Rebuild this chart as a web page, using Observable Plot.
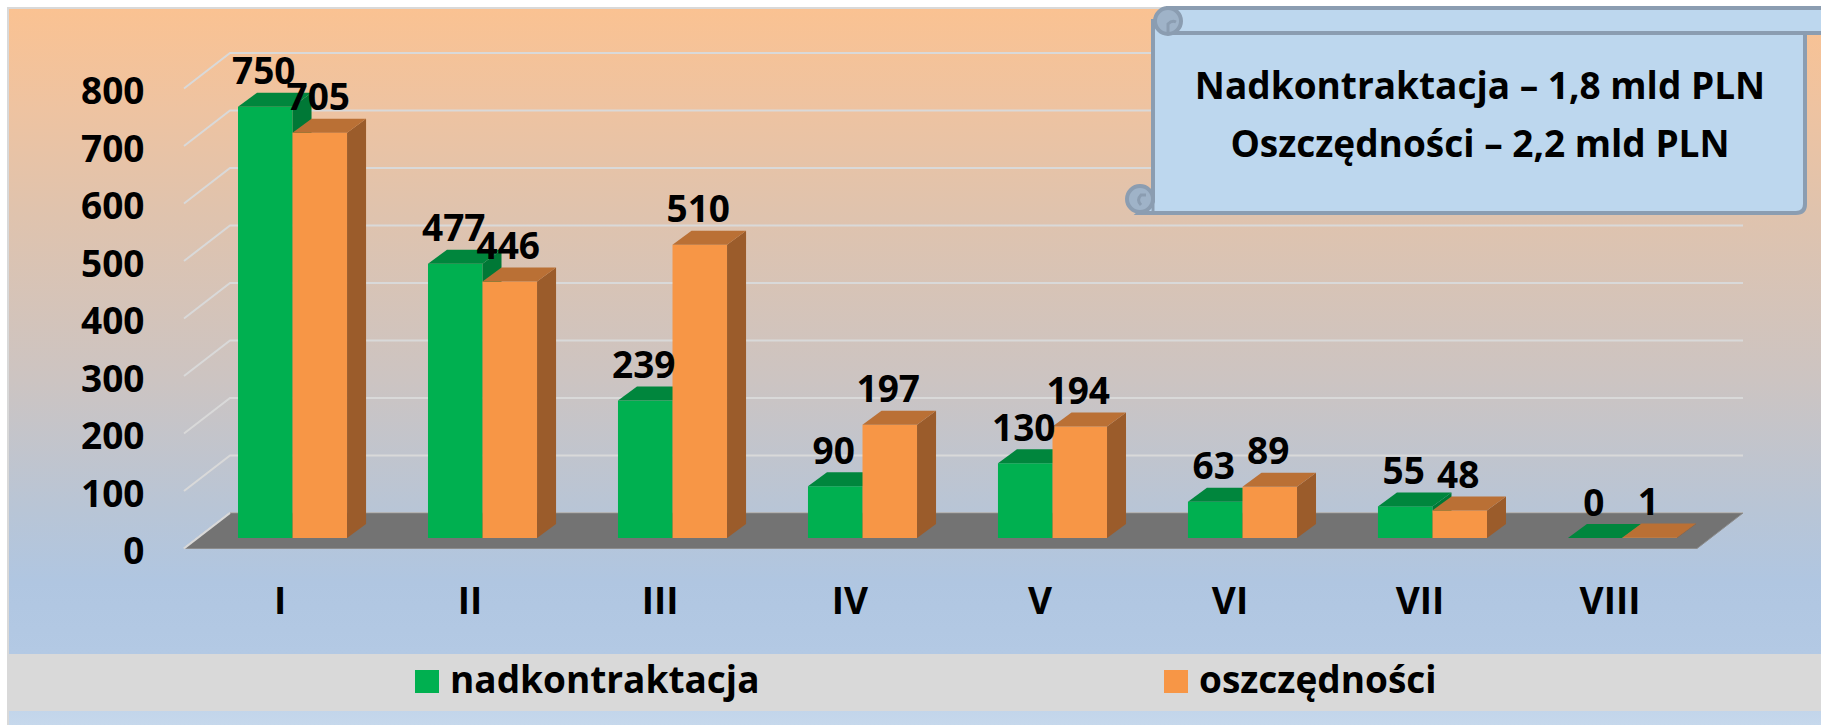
<!DOCTYPE html>
<html>
<head>
<meta charset="utf-8">
<script src="https://cdn.jsdelivr.net/npm/d3@7"></script>
<script src="https://cdn.jsdelivr.net/npm/@observablehq/plot@0.6"></script>
<style>
  html, body { margin: 0; padding: 0; background: #ffffff; }
  #wrap { position: relative; width: 1821px; height: 725px; overflow: hidden; font-family: 'Open Sans', sans-serif; }
  #bg { position: absolute; left: 7px; top: 7px; right: 0; bottom: 0;
        border-left: 2px solid #d9d9d9; border-top: 2px solid #d9d9d9;
        background: linear-gradient(to bottom, #FAC292 0%, #EEC3A1 14%, #E0C3AD 28%, #CCC4C2 52%, #B8C5D6 70%, #B0C6E1 80%, #B3C9E4 90%, #C6D8EC 100%); }
  #chart { position: absolute; left: 0; top: 0; }
  #legend { position: absolute; left: 9px; top: 654px; }
</style>
</head>
<body>
<div id="wrap">
  <div id="bg"></div>
  <div id="chart"></div>
  <div id="legend"></div>
</div>
<script>
// ---- data ----
const categories = ["I", "II", "III", "IV", "V", "VI", "VII", "VIII"];
const nadkontraktacja = [750, 477, 239, 90, 130, 63, 55, 0];
const oszczednosci = [705, 446, 510, 197, 194, 89, 48, 1];
const seriesNames = ["nadkontraktacja", "oszczędności"];
const yTicks = [0, 100, 200, 300, 400, 500, 600, 700, 800];
const boxLines = ["Nadkontraktacja – 1,8 mld PLN", "Oszczędności – 2,2 mld PLN"];

// ---- layout ----
const W = 1821, H = 654;
const mL = 238, mR = 144, mT = 78, mB = 116;
const padInner = 0.426;
const step = (W - mL - mR) / (categories.length - padInner);
const bw = step * (1 - padInner);
const half = bw / 2;
const depth = {dx: 19, dy: 14};           // bar depth
const wall = {back: 25, front: 10.5, dx: 46, left: -8, right: 66}; // floor / wall geometry
const FONT = "'Open Sans', sans-serif";

const styles = {
  [seriesNames[0]]: {front: "#00B050", top: "#00863D", side: "#007836", offset: 0},
  [seriesNames[1]]: {front: "#F79646", top: "#BA7035", side: "#9B5C2B", offset: half}
};

const rows = categories.flatMap((c, i) => [
  {cat: c, series: seriesNames[0], value: nadkontraktacja[i]},
  {cat: c, series: seriesNames[1], value: oszczednosci[i]}
]);
const bySeries = s => rows.filter(r => r.series === s);

// back wall gridlines + floor
function backdrop(index, scales, values, dims) {
  const sy = scales.y;
  const g = d3.create("svg:g");
  const xb0 = dims.marginLeft + wall.left;
  const xb1 = dims.width - dims.marginRight + wall.right;
  const xf0 = xb0 - wall.dx;
  for (const v of yTicks) {
    const yb = sy(v) - wall.back, yf = sy(v) + wall.front;
    g.append("path")
      .attr("d", `M${xf0},${yf}L${xb0},${yb}L${xb1},${yb}`)
      .attr("fill", "none").attr("stroke", "#D9D9D9").attr("stroke-width", 2);
  }
  const yb = sy(0) - wall.back, yf = sy(0) + wall.front;
  g.append("path")
    .attr("d", `M${xb0},${yb}L${xb1},${yb}L${xb1 - wall.dx},${yf}L${xf0},${yf}Z`)
    .attr("fill", "#737373").attr("stroke", "#8C8C8C").attr("stroke-width", 1);
  g.append("path")
    .attr("d", `M${xf0},${yf}L${xb0},${yb}`)
    .attr("stroke", "#D9D9D9").attr("stroke-width", 2);
  return g.node();
}

// top & side faces of each bar of one series
function faces(sName) {
  return (index, scales) => {
    const sx = scales.x, sy = scales.y;
    const st = styles[sName];
    const g = d3.create("svg:g");
    const y0 = sy(0);
    for (const r of bySeries(sName)) {
      const xl = sx(r.cat) + st.offset, xr = xl + half, yt = sy(r.value);
      g.append("path")
        .attr("d", `M${xr},${yt}L${xr + depth.dx},${yt - depth.dy}L${xr + depth.dx},${y0 - depth.dy}L${xr},${y0}Z`)
        .attr("fill", st.side);
      g.append("path")
        .attr("d", `M${xl},${yt}L${xr},${yt}L${xr + depth.dx},${yt - depth.dy}L${xl + depth.dx},${yt - depth.dy}Z`)
        .attr("fill", st.top);
    }
    return g.node();
  };
}

// scroll-shaped annotation box
function scrollBox() {
  const g = d3.create("svg:g");
  const stroke = "#8B9DB1", fill = "#BDD7EE", curl = "#9FB3C8";
  const L = 1153, R = 1805, T = 33, B = 213;
  // body
  g.append("path")
    .attr("d", `M${L},${T - 12}L${R},${T - 12}L${R},${B - 9}Q${R},${B} ${R - 9},${B}L${L - 14},${B}L${L},${B - 12}Z`)
    .attr("fill", fill).attr("stroke", stroke).attr("stroke-width", 4);
  // top ribbon
  g.append("rect").attr("x", 1168).attr("y", 8).attr("width", 700).attr("height", 25)
    .attr("fill", fill).attr("stroke", stroke).attr("stroke-width", 4);
  // top-left curl
  g.append("circle").attr("cx", 1168).attr("cy", 21).attr("r", 13)
    .attr("fill", curl).attr("stroke", stroke).attr("stroke-width", 4);
  g.append("path").attr("d", "M1168,33 L1168,24 Q1172,20 1176,22")
    .attr("fill", "none").attr("stroke", stroke).attr("stroke-width", 3);
  // bottom-left curl
  g.append("circle").attr("cx", 1140).attr("cy", 199).attr("r", 13)
    .attr("fill", curl).attr("stroke", stroke).attr("stroke-width", 4);
  g.append("path").attr("d", "M1153,186 L1153,213 M1141,205 Q1136,200 1141,195 L1146,195")
    .attr("fill", "none").attr("stroke", stroke).attr("stroke-width", 3);
  const tx = 1480;
  boxLines.forEach((t, i) => {
    g.append("text").attr("x", tx).attr("y", 99 + i * 58)
      .attr("text-anchor", "middle").attr("font-size", 37).attr("font-weight", 700)
      .attr("font-family", FONT).attr("fill", "#000").text(t);
  });
  return g.node();
}

const labelDx = {[seriesNames[0]]: -half / 2 - 2, [seriesNames[1]]: half / 2 - 2};

const chart = Plot.plot({
  width: W, height: H,
  marginLeft: mL, marginRight: mR, marginTop: mT, marginBottom: mB,
  style: {background: "transparent", fontFamily: FONT, fontSize: "37px", fontWeight: "700", color: "#000", overflow: "visible"},
  x: {type: "band", domain: categories, paddingInner: padInner, paddingOuter: 0, round: false, label: null},
  y: {domain: [0, 800], label: null},
  marks: [
    backdrop,
    Plot.barY(bySeries(seriesNames[0]), {x: "cat", y: "value", fill: styles[seriesNames[0]].front, insetRight: half}),
    faces(seriesNames[0]),
    Plot.barY(bySeries(seriesNames[1]), {x: "cat", y: "value", fill: styles[seriesNames[1]].front, insetLeft: half}),
    faces(seriesNames[1]),
    ...seriesNames.map(s => Plot.text(bySeries(s), {
      x: "cat", y: "value", text: d => String(d.value),
      dx: labelDx[s], dy: -23, lineAnchor: "bottom", fill: "#000", fontSize: 37, fontWeight: 700
    })),
    Plot.axisY({ticks: yTicks, tickSize: 0, tickPadding: 94, dy: 14, label: null, fontSize: 37, fontWeight: 700}),
    Plot.axisX({tickSize: 0, tickPadding: 49, dx: -13, label: null, fontSize: 37, fontWeight: 700}),
    scrollBox
  ]
});
document.getElementById("chart").appendChild(chart);

// legend (below the plot)
const leg = d3.select("#legend").append("svg").attr("width", 1812).attr("height", 57)
  .style("display", "block");
leg.append("rect").attr("width", 1812).attr("height", 57).attr("fill", "#D9D9D9");
const legPos = [406, 1155];
seriesNames.forEach((s, i) => {
  leg.append("rect").attr("x", legPos[i]).attr("y", 16).attr("width", 24).attr("height", 23)
    .attr("fill", styles[s].front);
  leg.append("text").attr("x", legPos[i] + 35).attr("y", 39)
    .attr("font-family", FONT).attr("font-size", 37).attr("font-weight", 700).attr("fill", "#000").text(s);
});
</script>
</body>
</html>
